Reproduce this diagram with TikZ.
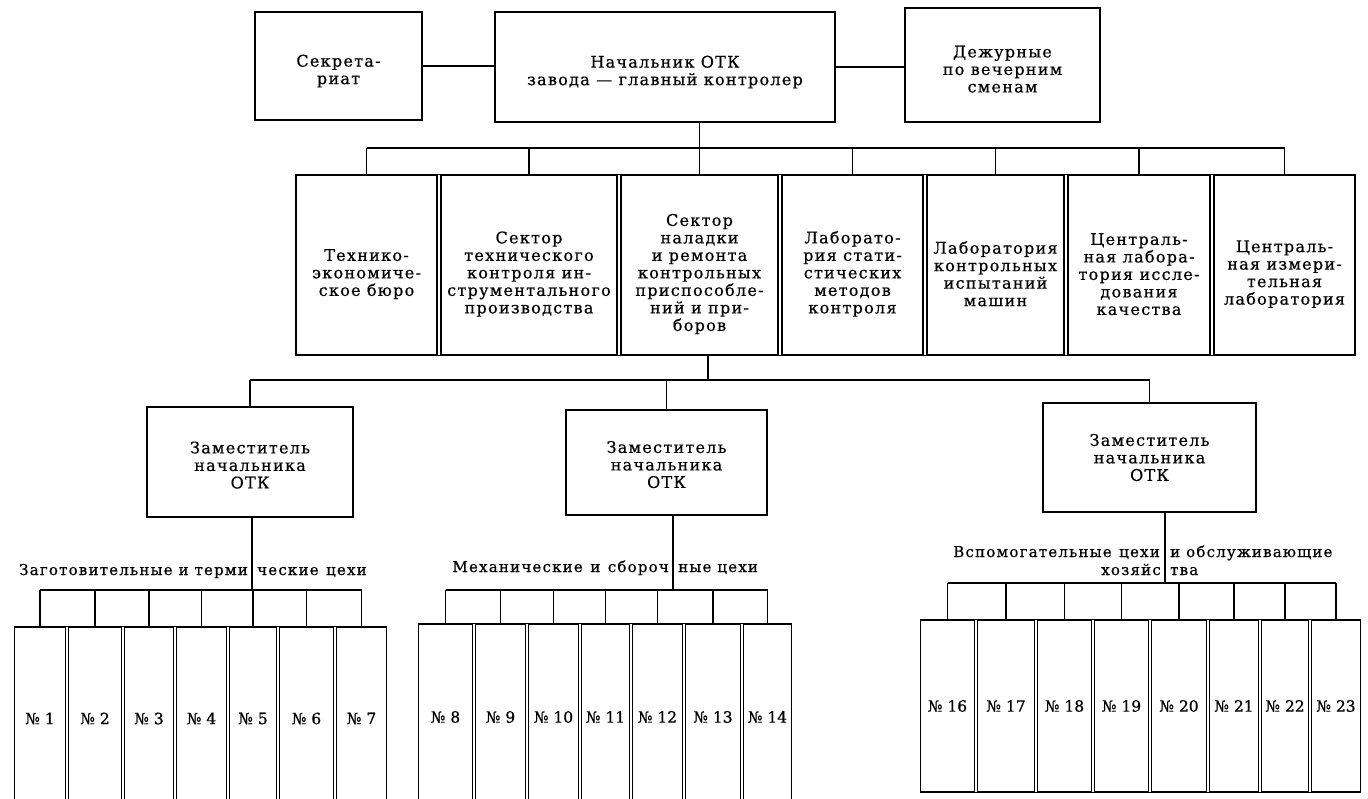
\documentclass[tikz,border=0pt]{standalone}
\usepackage{fontspec}
\newfontfamily\rfont[LetterSpace=8,FakeBold=0.6]{DejaVu Serif}
\newfontfamily\nfont[FakeBold=0.8]{DejaVu Serif}
\newcommand\dnstrut[1]{\rule{0pt}{#1}}
\begin{document}
\begin{tikzpicture}[x=1pt,y=-1pt]
\tikzset{
  ln/.style={line width=1.4pt},
  box/.style={draw, line width=1.4pt, inner sep=2pt, align=center, font=\rfont\fontsize{16}{17.5}\selectfont},
  numbox/.style={draw, line width=1.4pt, inner sep=0pt, font=\nfont\fontsize{15.5}{17}\selectfont},
  lbl/.style={inner sep=0pt, font=\rfont\fontsize{15}{17}\selectfont},
}
\useasboundingbox[fill=white] (0,0) rectangle (1368,798);

% top row
\node[box, minimum width=167pt, minimum height=108pt] (sec) at (338.5,66) {\dnstrut{22pt}Секрета-\\риат};
\node[box, minimum width=340pt, minimum height=110pt] (nach) at (665,67) {\dnstrut{22pt}Начальник ОТК\\завода — главный контролер};
\node[box, minimum width=195pt, minimum height=114pt] (dez) at (1002.5,65) {\dnstrut{20pt}Дежурные\\по вечерним\\сменам};
\draw[ln] (sec.east) -- (sec.east -| nach.west);
\draw[ln] (nach.east) -- (nach.east -| dez.west);

% middle row
\node[box, minimum width=141pt, minimum height=180pt] (m1) at (366.5,265) {\dnstrut{30pt}Технико-\\экономиче-\\ское бюро};
\node[box, minimum width=176pt, minimum height=180pt] (m2) at (529,265) {\dnstrut{30pt}Сектор\\технического\\контроля ин-\\струментального\\производства};
\node[box, minimum width=157pt, minimum height=180pt] (m3) at (699.5,265) {\dnstrut{30pt}Сектор\\наладки\\и ремонта\\контрольных\\приспособле-\\ний и при-\\боров};
\node[box, minimum width=141pt, minimum height=180pt] (m4) at (852.5,265) {\dnstrut{30pt}Лаборато-\\рия стати-\\стических\\методов\\контроля};
\node[box, minimum width=137pt, minimum height=180pt] (m5) at (995.5,265) {\dnstrut{30pt}Лаборатория\\контрольных\\испытаний\\машин};
\node[box, minimum width=142pt, minimum height=180pt] (m6) at (1139,265) {\dnstrut{30pt}Централь-\\ная лабора-\\тория иссле-\\дования\\качества};
\node[box, minimum width=141pt, minimum height=180pt] (m7) at (1284.5,265) {\dnstrut{30pt}Централь-\\ная измери-\\тельная\\лаборатория};
\draw[ln] (m1.north west) -- (m7.north east);
\draw[ln] (m1.south west) -- (m7.south east);

\coordinate (bus1) at (700,148);
\draw[ln] (m1.north |- bus1) -- (m7.north |- bus1);
\draw[ln] (nach.south -| m3.north) -- (m3.north);
\foreach \i in {1,2,4,5,6,7} {\draw[ln] (m\i.north |- bus1) -- (m\i.north);}

% deputies
\node[box, minimum width=206pt, minimum height=110pt] (dep1) at (250,462) {\dnstrut{18pt}Заместитель\\начальника\\ОТК};
\node[box, minimum width=201pt, minimum height=105pt] (dep2) at (666.5,462.5) {\dnstrut{16pt}Заместитель\\начальника\\ОТК};
\node[box, minimum width=213pt, minimum height=109pt] (dep3) at (1149.5,457.5) {Заместитель\\начальника\\ОТК};

\coordinate (b2) at (708,380);
\draw[ln] (b2 |- m3.south) -- (b2);
\draw[ln] (dep1.north |- b2) -- (dep3.north |- b2);
\foreach \i in {1,2,3} {\draw[ln] (dep\i.north |- b2) -- (dep\i.north);}

% group 1
\coordinate (s1) at (252,590);
\node[lbl, anchor=base east] (g1a) at (248,575) {Заготовительные и терми};
\node[lbl, anchor=base west] (g1b) at (257,575) {ческие\enspace цехи};
\draw[ln] (dep1.south -| s1) -- (s1);
\node[numbox, minimum width=51pt, minimum height=183pt] (b11) at (40,718.5) {№ 1};
\node[numbox, minimum width=53pt, minimum height=183pt] (b12) at (95,718.5) {№ 2};
\node[numbox, minimum width=49pt, minimum height=183pt] (b13) at (149,718.5) {№ 3};
\node[numbox, minimum width=50pt, minimum height=183pt] (b14) at (201.5,718.5) {№ 4};
\node[numbox, minimum width=47pt, minimum height=183pt] (b15) at (253,718.5) {№ 5};
\node[numbox, minimum width=54pt, minimum height=183pt] (b16) at (306.5,718.5) {№ 6};
\node[numbox, minimum width=50pt, minimum height=183pt] (b17) at (361.5,718.5) {№ 7};
\draw[ln] (b11.north west) -- (b17.north east);
\draw[ln] (b11.north |- s1) -- (b17.north |- s1);
\foreach \i in {1,...,7} {\draw[ln] (b1\i.north |- s1) -- (b1\i.north);}

% group 2
\coordinate (s2) at (673,590);
\node[lbl, anchor=base east] (g2a) at (669,572) {Механические\enspace и\enspace сбороч};
\node[lbl, anchor=base west] (g2b) at (678,572) {ные цехи};
\draw[ln] (dep2.south -| s2) -- (s2);
\node[numbox, minimum width=54pt, minimum height=186pt] (b21) at (445.5,717) {№ 8};
\node[numbox, minimum width=50pt, minimum height=186pt] (b22) at (500.5,717) {№ 9};
\node[numbox, minimum width=50pt, minimum height=186pt] (b23) at (553.5,717) {№ 10};
\node[numbox, minimum width=48pt, minimum height=186pt] (b24) at (605.5,717) {№ 11};
\node[numbox, minimum width=50pt, minimum height=186pt] (b25) at (657.5,717) {№ 12};
\node[numbox, minimum width=55pt, minimum height=186pt] (b26) at (713,717) {№ 13};
\node[numbox, minimum width=48pt, minimum height=186pt] (b27) at (767.5,717) {№ 14};
\draw[ln] (b21.north west) -- (b27.north east);
\draw[ln] (b21.north |- s2) -- (b27.north |- s2);
\foreach \i in {1,...,7} {\draw[ln] (b2\i.north |- s2) -- (b2\i.north);}

% group 3
\coordinate (s3) at (1165,583);
\node[lbl, anchor=base east] (g3a) at (1160,557) {Вспомогательные\enspace цехи};
\node[lbl, anchor=base west] (g3b) at (1170,557) {и обслуживающие};
\node[lbl, anchor=base east] (g3c) at (1161,575) {хозяйс};
\node[lbl, anchor=base west] (g3d) at (1170,575) {тва};
\draw[ln] (dep3.south -| s3) -- (s3);
\node[numbox, minimum width=54pt, minimum height=172pt] (b31) at (947.5,706) {№ 16};
\node[numbox, minimum width=57pt, minimum height=172pt] (b32) at (1006,706) {№ 17};
\node[numbox, minimum width=54pt, minimum height=172pt] (b33) at (1064.5,706) {№ 18};
\node[numbox, minimum width=54pt, minimum height=172pt] (b34) at (1121.5,706) {№ 19};
\node[numbox, minimum width=55pt, minimum height=172pt] (b35) at (1179,706) {№ 20};
\node[numbox, minimum width=49pt, minimum height=172pt] (b36) at (1234,706) {№ 21};
\node[numbox, minimum width=47pt, minimum height=172pt] (b37) at (1285,706) {№ 22};
\node[numbox, minimum width=49pt, minimum height=172pt] (b38) at (1336,706) {№ 23};
\draw[ln] (b31.north west) -- (b38.north east);
\draw[ln] (b31.south west) -- (b38.south east);
\draw[ln] (b31.north |- s3) -- (b38.north |- s3);
\foreach \i in {1,...,8} {\draw[ln] (b3\i.north |- s3) -- (b3\i.north);}
\end{tikzpicture}
\end{document}
